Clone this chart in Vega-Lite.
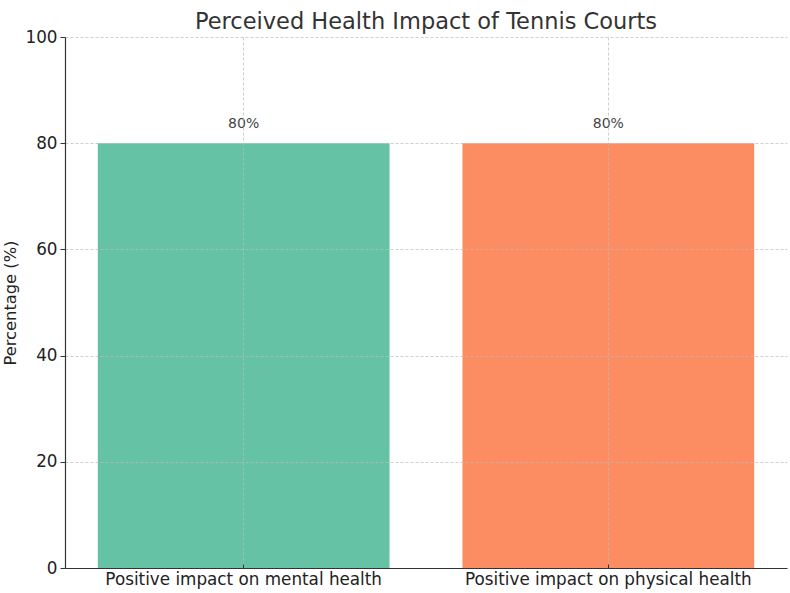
{
  "$schema": "https://vega.github.io/schema/vega-lite/v6.json",
  "autosize": {"type": "none"},
  "width": 722,
  "height": 531,
  "padding": {"left": 65, "top": 37, "right": 3, "bottom": 25},
  "background": "white",
  "title": {
    "text": "Perceived Health Impact of Tennis Courts",
    "anchor": "middle",
    "font": "DejaVu Sans",
    "fontSize": 22.5,
    "fontWeight": "normal",
    "color": "#333333",
    "offset": -4
  },
  "config": {
    "view": {"stroke": null},
    "font": "DejaVu Sans"
  },
  "data": {
    "values": [
      {"category": "Positive impact on mental health", "percentage": 80},
      {"category": "Positive impact on physical health", "percentage": 80}
    ]
  },
  "encoding": {
    "x": {
      "field": "category",
      "type": "nominal",
      "sort": null,
      "scale": {"paddingInner": 0.2, "paddingOuter": 0.09},
      "axis": {
        "title": null,
        "labelAngle": 0,
        "labelLimit": 0,
        "labelFont": "DejaVu Sans",
        "labelFontSize": 16.8,
        "labelColor": "#222222",
        "labelPadding": 7,
        "domainColor": "#333333",
        "domainWidth": 1.2,
        "tickColor": "#333333",
        "tickSize": -4,
        "grid": true,
        "gridColor": "#bbbbbb",
        "gridOpacity": 0.7,
        "gridDash": [3, 2],
        "zindex": 1
      }
    },
    "y": {
      "field": "percentage",
      "type": "quantitative",
      "scale": {"domain": [0, 100], "nice": false},
      "axis": {
        "title": "Percentage (%)",
        "titleFont": "DejaVu Sans",
        "titleFontSize": 16.3,
        "titleFontWeight": "normal",
        "titleColor": "#222222",
        "titlePadding": 6,
        "values": [0, 20, 40, 60, 80, 100],
        "labelFont": "DejaVu Sans",
        "labelFontSize": 16.8,
        "labelColor": "#222222",
        "labelPadding": 3,
        "domainColor": "#333333",
        "domainWidth": 1.2,
        "tickColor": "#333333",
        "tickSize": 5,
        "grid": true,
        "gridColor": "#bbbbbb",
        "gridOpacity": 0.7,
        "gridDash": [3, 2],
        "zindex": 1
      }
    }
  },
  "layer": [
    {
      "mark": {"type": "bar"},
      "encoding": {
        "color": {
          "field": "category",
          "type": "nominal",
          "sort": null,
          "scale": {"range": ["#66c2a5", "#fc8d62"]},
          "legend": null
        }
      }
    },
    {
      "transform": [{"calculate": "datum.percentage + '%'", "as": "label"}],
      "mark": {
        "type": "text",
        "baseline": "bottom",
        "dy": -12,
        "font": "DejaVu Sans",
        "fontSize": 14,
        "color": "#444444"
      },
      "encoding": {"text": {"field": "label"}}
    }
  ]
}
